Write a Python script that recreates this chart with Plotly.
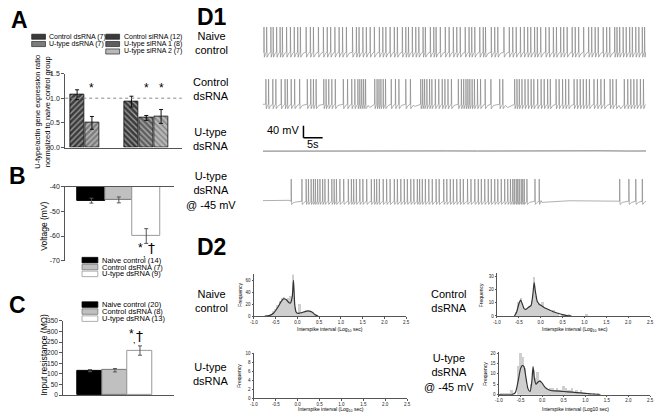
import plotly.graph_objects as go

W, H = 661, 417
FONT = "Arial, Liberation Sans, sans-serif"

# ======================= DATA =======================
# Panel A : U-type/actin expression ratio
a_groups = ["Control dsRNA (7)", "U-type dsRNA (7)", "Control siRNA (12)",
            "U-type siRNA 1 (8)", "U-type siRNA 2 (7)"]
a_ratio = [1.07, 0.50, 0.93, 0.60, 0.63]
a_err = [0.10, 0.13, 0.11, 0.05, 0.14]
a_sig = [False, True, False, True, True]
a_ref_level = 1.0
a_ticks = [0.0, 0.5, 1.0, 1.5]

# Panel B : resting voltage
b_groups = ["Naive control (14)", "Control dsRNA (7)", "U-type dsRNA (9)"]
b_voltage = [-45.6, -45.3, -60.0]
b_err = [1.0, 1.2, 3.0]
b_ticks = [-40, -50, -60, -70]

# Panel C : input resistance
c_groups = ["Naive control (20)", "Control dsRNA (8)", "U-type dsRNA (13)"]
c_res = [115, 117, 210]
c_err = [5, 8, 22]
c_ticks = [0, 50, 100, 150, 200, 250, 300, 350]

# Panel D1 : spike times (s)
naive_spikes = [0.3, 1.0, 2.1, 2.7, 3.6, 4.5, 5.1, 6.2, 7.2, 8.2, 9.1, 9.8, 11.3, 12.4, 13.2,
                14.5, 15.8, 16.8, 17.7, 18.8, 19.9, 20.8, 21.8, 23.4, 24.4, 25.1, 26.1, 27.0,
                28.0, 29.1, 30.4, 31.3, 32.1, 33.2, 34.3, 35.1, 36.4, 37.3, 38.0, 39.0, 39.9,
                40.7, 41.8, 42.4, 43.7, 44.6, 45.2, 46.3, 47.6, 48.6, 49.7, 50.6, 51.5, 52.8,
                53.8, 54.5, 55.3, 56.6, 57.5, 58.1, 59.6, 60.5, 61.3, 62.9, 64.3, 65.2, 66.1,
                67.2, 68.2, 69.1, 69.9, 70.9, 71.6, 72.5, 73.8, 74.7, 75.8, 76.6, 77.7, 78.5,
                79.4, 80.7, 81.5, 82.4, 83.7, 85.0, 85.8, 86.7, 87.5, 88.8, 89.7, 90.5, 91.8,
                92.4, 93.1, 94.0, 94.8, 95.7, 96.4, 97.3, 98.1, 99.0, 99.6]
control_spikes = [0.8, 1.5, 2.6, 3.4, 4.8, 5.8, 6.4, 7.4, 8.3, 9.6, 11.6, 12.5, 13.2, 13.9,
                  15.9, 16.5, 17.2, 18.0, 18.9, 21.0, 22.1, 23.2, 24.0, 24.8, 25.3, 25.8, 26.3,
                  26.8, 29.2, 29.8, 30.3, 30.8, 31.4, 32.0, 33.5, 34.6, 35.5, 37.3, 38.5, 41.2,
                  41.7, 42.2, 42.8, 43.5, 44.1, 45.0, 45.9, 46.8, 47.5, 48.3, 49.2, 51.0, 51.8,
                  52.4, 53.0, 53.5, 54.0, 54.6, 55.2, 56.0, 56.8, 58.0, 59.5, 61.8, 62.6, 65.7,
                  66.3, 66.9, 67.6, 68.4, 69.2, 70.0, 70.7, 71.7, 72.6, 73.4, 74.3, 75.0, 76.5,
                  77.3, 78.2, 79.0, 79.8, 81.2, 82.0, 82.8, 83.6, 84.4, 85.2, 86.4, 87.3, 88.2,
                  89.1, 90.6, 91.3, 92.2, 94.3, 95.2, 96.0, 96.8, 97.6, 98.5, 99.3]
control_dip_times = [27.9, 39.8, 63.9, 93.4]
control_dip_mv = [-66, -62, -66, -70]
utype_times = [0, 8, 16, 24, 32, 40, 48, 56, 64, 72, 80, 88, 96, 100]
utype_mv = [-60.5, -60.0, -59.6, -60.3, -59.8, -60.4, -59.9, -60.2, -59.7, -60.3, -60.0, -59.6, -60.2, -60.0]
held_spikes = [7.4, 10.2, 11.3, 11.9, 12.6, 13.2, 13.7, 14.3, 14.9, 15.6, 16.2, 17.1, 18.0, 18.6,
               19.2, 20.1, 21.1, 22.3, 23.1, 23.7, 24.4, 25.3, 26.1, 27.1, 28.3, 29.1, 29.7, 30.4,
               31.4, 32.3, 33.2, 34.3, 35.1, 36.0, 36.9, 37.7, 38.6, 39.4, 40.3, 40.9, 41.6, 42.4,
               43.3, 44.2, 45.2, 46.0, 47.2, 48.0, 48.9, 49.7, 50.6, 51.5, 52.3, 53.4, 54.3, 55.3,
               56.2, 57.0, 57.9, 58.8, 59.6, 60.5, 61.3, 62.2, 63.1, 63.9, 64.6, 65.2, 65.6, 66.1,
               66.5, 66.9, 67.4, 67.8, 68.2, 68.9, 71.0, 72.1, 93.1, 95.5, 97.3, 99.0]
scale_mv = 40
scale_s = 5

# Panel D2 : interspike interval histograms (log10 s)
naive_bins = [-0.6, -0.55, -0.5, -0.45, -0.4, -0.35, -0.3, -0.25, -0.2, -0.15, -0.1, -0.05,
              0.0, 0.05, 0.1, 0.15, 0.2, 0.25, 0.3, 0.35, 0.4]
naive_counts = [3, 8, 12, 18, 25, 30, 32, 28, 30, 33, 70, 15, 5, 20, 6, 8, 9, 10, 8, 5, 3]
naive_fit_x = [-0.75, -0.65, -0.55, -0.45, -0.38, -0.32, -0.26, -0.2, -0.16, -0.12, -0.09,
               -0.06, -0.03, 0.0, 0.05, 0.1, 0.15, 0.2, 0.25, 0.3, 0.35, 0.4, 0.48]
naive_fit_y = [0, 1, 5, 15, 24, 29, 28, 23, 22, 32, 60, 18, 7, 5, 5, 6, 7, 8, 9, 8, 6, 3, 0]

control_bins = [-0.55, -0.5, -0.45, -0.4, -0.35, -0.3, -0.25, -0.2, -0.15, -0.1, -0.05, 0.0,
                0.05, 0.1, 0.15, 0.2, 0.25, 0.3, 0.35, 0.4, 0.5, 0.65, 1.05]
control_counts = [3, 10, 13, 7, 4, 6, 7, 12, 29, 15, 9, 8, 10, 6, 5, 4, 3, 4, 2, 1, 1, 1, 1]
control_fit_x = [-0.6, -0.55, -0.5, -0.46, -0.42, -0.38, -0.34, -0.28, -0.22, -0.18, -0.15,
                 -0.12, -0.08, -0.04, 0.0, 0.05, 0.1, 0.2, 0.3, 0.4, 0.5, 0.6, 0.7]
control_fit_y = [0, 3, 9, 12, 9, 5.5, 5, 6.5, 8, 16, 25, 18, 11, 9, 8, 7, 6, 4.5, 3, 2, 1, 0.3, 0]

held_bins = [-0.95, -0.9, -0.85, -0.8, -0.75, -0.7, -0.55, -0.5, -0.45, -0.4, -0.35, -0.3,
             -0.25, -0.2, -0.15, -0.1, -0.05, 0.0, 0.05, 0.1, 0.15, 0.2, 0.25, 0.3, 0.35, 0.4,
             0.45, 0.5, 0.55, 0.6, 0.65, 0.7, 0.75, 0.8, 0.85, 0.9, 0.95, 1.0, 1.1, 1.2, 1.3]
held_counts = [1, 1, 1, 1, 1, 2, 14, 20, 18, 13, 4, 2, 5, 12, 8, 11, 7, 5, 4, 3, 2, 3, 3, 2,
               3, 2, 2, 4, 3, 2, 2, 3, 1, 2, 1, 2, 1, 1, 1, 1, 1]
held_fit_x = [-1.0, -0.7, -0.62, -0.56, -0.5, -0.46, -0.42, -0.38, -0.33, -0.28, -0.24, -0.21,
              -0.18, -0.14, -0.1, -0.05, 0.0, 0.05, 0.1, 0.2, 0.3, 0.5, 0.7, 0.9, 1.1, 1.35]
held_fit_y = [0, 0, 1, 6, 12.5, 14, 13.5, 9, 3, 1.5, 6, 13.5, 8, 5, 6, 6.5, 5.5, 4, 3, 2, 1.8,
              1.5, 1.2, 0.8, 0.4, 0]

isi_ticks = [-1.0, -0.5, 0.0, 0.5, 1.0, 1.5, 2.0, 2.5]

# ======================= LAYOUT HELPERS =======================
def fx(px):
    return px / W


def fy(py):
    return 1 - py / H


AX = "#555555"
fig = go.Figure()
annotations = []
shapes = []


def ann(text, x, y, size=11, xanchor="center", yanchor="middle", angle=0, bold=False,
        ref=("paper", "paper"), color="#000", family=FONT):
    annotations.append(dict(text=("<b>%s</b>" % text) if bold else text, x=x, y=y,
                            xref=ref[0], yref=ref[1], showarrow=False, xanchor=xanchor,
                            yanchor=yanchor, textangle=angle,
                            font=dict(family=family, size=size, color=color)))


# ---------------- Panel A ----------------
a_pos = [0, 1, 3.67, 4.67, 5.67]
a_bg = ["#3a3a3a", "#7c7c7c", "#3a3a3a", "#5e5e5e", "#b8b8b8"]
a_fg = ["#101010", "#3a3a3a", "#101010", "#202020", "#666666"]
a_shape = ["/", "/", "\\", "\\", "\\"]
fig.add_trace(go.Bar(x=a_pos, y=a_ratio, width=0.93, xaxis="x", yaxis="y",
                     marker=dict(color=a_bg, line=dict(color="#111", width=0.8),
                                 pattern=dict(shape=a_shape, fgcolor=a_fg, size=4, solidity=0.35)),
                     error_y=dict(type="data", array=a_err, color="#111", thickness=1, width=2),
                     showlegend=False))
shapes.append(dict(type="line", xref="x domain", yref="y", x0=0, x1=1, y0=a_ref_level, y1=a_ref_level,
                   line=dict(color="#888", width=1, dash="dot")))
for p, s in zip(a_pos, a_sig):
    if s:
        ann("*", p, 1.21, size=12, ref=("x", "y"))

# Panel A legend (drawn manually for compact spacing)
a_leg = [(28, 33.3, 0), (28, 40.7, 1), (103, 33.3, 2), (103, 40.7, 3), (103, 48.3, 4)]
for lx, ly, i in a_leg:
    shapes.append(dict(type="rect", xref="paper", yref="paper", x0=fx(lx), x1=fx(lx + 14),
                       y0=fy(ly + 2.6), y1=fy(ly - 2.6), fillcolor=a_bg[i],
                       line=dict(color="#111", width=0.6)))
    ann(a_groups[i], fx(lx + 16), fy(ly), size=7, xanchor="left")

ann("U-type/actin gene expression ratio<br>normalized to naive control group",
    fx(39), fy(110), size=7.5, angle=-90)

# ---------------- Panel B ----------------
b_pos = [0, 1, 2]
b_fill = ["#000000", "#c0c0c0", "#ffffff"]
b_line = ["#000000", "#777777", "#999999"]
fig.add_trace(go.Bar(x=b_pos, y=b_voltage, width=1.0, xaxis="x2", yaxis="y2",
                     marker=dict(color=b_fill, line=dict(color=b_line, width=1)),
                     error_y=dict(type="data", array=b_err, color="#555", thickness=1, width=2),
                     showlegend=False))
ann("*", 1.8, -65.0, size=12, ref=("x2", "y2"))
ann(",", 1.95, -67.5, size=9, ref=("x2", "y2"))
ann("†", 2.2, -65.0, size=14, ref=("x2", "y2"), family="DejaVu Sans")
ann("Voltage (mV)", fx(41), fy(226), size=8.5, angle=-90)
for k, ly in enumerate([260.5, 267.5, 274.5]):
    shapes.append(dict(type="rect", xref="paper", yref="paper", x0=fx(79), x1=fx(95),
                       y0=fy(ly + 2.8), y1=fy(ly - 2.8), fillcolor=b_fill[k],
                       line=dict(color=b_line[k], width=0.8)))
    ann(b_groups[k], fx(97), fy(ly), size=7.5, xanchor="left")

# ---------------- Panel C ----------------
c_pos = [0, 1, 2]
fig.add_trace(go.Bar(x=c_pos, y=c_res, width=1.0, xaxis="x3", yaxis="y3",
                     marker=dict(color=b_fill, line=dict(color=b_line, width=1)),
                     error_y=dict(type="data", array=c_err, color="#555", thickness=1, width=2),
                     showlegend=False))
ann("*", 1.65, 288, size=12, ref=("x3", "y3"))
ann(",", 1.8, 262, size=9, ref=("x3", "y3"))
ann("†", 2.0, 280, size=14, ref=("x3", "y3"), family="DejaVu Sans")
ann("Input resistance (MΩ)", fx(40), fy(357), size=8.5, angle=-90)
for k, ly in enumerate([305.7, 312.8, 320.0]):
    shapes.append(dict(type="rect", xref="paper", yref="paper", x0=fx(79), x1=fx(95),
                       y0=fy(ly + 2.8), y1=fy(ly - 2.8), fillcolor=b_fill[k],
                       line=dict(color=b_line[k], width=0.8)))
    ann(c_groups[k], fx(97), fy(ly), size=7.5, xanchor="left")


# ---------------- Panel D1 : traces ----------------
def spike_trace(spikes, base, peak, trough, t_end=100.0, start_base=None, extra_t=(), extra_v=()):
    pts = [(0.0, base if start_base is None else start_base)]
    for i, t in enumerate(spikes):
        nxt = spikes[i + 1] if i + 1 < len(spikes) else t_end
        gap = nxt - t
        pts += [(t - 0.05, base), (t, peak), (t + 0.1, trough),
                (t + 0.1 + min(0.6, gap * 0.45), base - 4)]
    pts += list(zip(extra_t, extra_v))
    pts.append((t_end, base))
    pts.sort(key=lambda p: p[0])
    return [p[0] for p in pts], [p[1] for p in pts]


tr_col = "#7a7a7a"
nx, nyv = spike_trace(naive_spikes, -55, 30, -72)
fig.add_trace(go.Scatter(x=nx, y=nyv, mode="lines", line=dict(color=tr_col, width=0.6),
                         xaxis="x4", yaxis="y4", showlegend=False, hoverinfo="skip"))
cx, cyv = spike_trace(control_spikes, -55, 30, -70, extra_t=control_dip_times, extra_v=control_dip_mv)
fig.add_trace(go.Scatter(x=cx, y=cyv, mode="lines", line=dict(color=tr_col, width=0.6),
                         xaxis="x5", yaxis="y5", showlegend=False, hoverinfo="skip"))
fig.add_trace(go.Scatter(x=utype_times, y=utype_mv, mode="lines", line=dict(color="#555", width=0.8),
                         xaxis="x6", yaxis="y6", showlegend=False, hoverinfo="skip"))
hx, hyv = spike_trace(held_spikes, -47, 28, -58, start_base=-45,
                      extra_t=[3.0, 6.8, 72.6, 80.0, 92.9], extra_v=[-44, -44, -45, -45.5, -45])
fig.add_trace(go.Scatter(x=hx, y=hyv, mode="lines", line=dict(color=tr_col, width=0.6),
                         xaxis="x7", yaxis="y7", showlegend=False, hoverinfo="skip"))
# scale bar on the U-type axes
sb_x0, sb_y0 = 10.6, -15
shapes.append(dict(type="line", xref="x6", yref="y6", x0=sb_x0, x1=sb_x0, y0=sb_y0, y1=sb_y0 + scale_mv,
                   line=dict(color="#000", width=1.5)))
shapes.append(dict(type="line", xref="x6", yref="y6", x0=sb_x0, x1=sb_x0 + scale_s, y0=sb_y0, y1=sb_y0,
                   line=dict(color="#000", width=1.5)))
ann("%d mV" % scale_mv, sb_x0 - 0.6, 10, size=11, xanchor="right", ref=("x6", "y6"))
ann("%ds" % scale_s, sb_x0 + 2.5, -38, size=11, ref=("x6", "y6"))

# ---------------- Panel D2 : histograms ----------------
bar_col = "#cfcfcf"
fit_col = "#333333"
for (bx, by, fxs, fys, xa, ya) in [
    (naive_bins, naive_counts, naive_fit_x, naive_fit_y, "x8", "y8"),
    (control_bins, control_counts, control_fit_x, control_fit_y, "x9", "y9"),
    (held_bins, held_counts, held_fit_x, held_fit_y, "x11", "y11"),
]:
    fig.add_trace(go.Bar(x=bx, y=by, width=0.045, marker=dict(color=bar_col, line=dict(width=0)),
                         xaxis=xa, yaxis=ya, showlegend=False))
    fig.add_trace(go.Scatter(x=fxs, y=fys, mode="lines",
                             line=dict(color=fit_col, width=1.2, shape="spline", smoothing=0.6),
                             xaxis=xa, yaxis=ya, showlegend=False))
fig.add_trace(go.Scatter(x=[None], y=[None], xaxis="x10", yaxis="y10", showlegend=False))

# labels
ann("A", fx(5), fy(16.5), size=23, xanchor="left", bold=True)
ann("B", fx(3), fy(174.5), size=23, xanchor="left", bold=True)
ann("C", fx(3), fy(306.5), size=23, xanchor="left", bold=True)
ann("D1", fx(193), fy(13.5), size=23, xanchor="left", bold=True)
ann("D2", fx(193), fy(247.5), size=23, xanchor="left", bold=True)

ann("Naive<br>control", fx(210), fy(40), size=11)
ann("Control<br>dsRNA", fx(210), fy(86.5), size=11)
ann("U-type<br>dsRNA", fx(210), fy(137), size=11)
ann("U-type<br>dsRNA<br>@ -45 mV", fx(210), fy(189.5), size=11)

ann("Naive<br>control", fx(210), fy(302.5), size=11)
ann("U-type<br>dsRNA", fx(210), fy(376), size=11)
ann("Control<br>dsRNA", fx(450), fy(302.5), size=11)
ann("U-type<br>dsRNA<br>@ -45 mV", fx(450), fy(374.5), size=11)

isi_t1 = "Interspike interval (Log<sub>10</sub> sec)"
isi_t2 = "Interspike interval (Log10 sec)"
ann(isi_t1, fx(330), fy(331.5), size=5)
ann(isi_t1, fx(330.5), fy(412), size=5)
ann(isi_t1, fx(577.5), fy(331.5), size=5)
ann(isi_t2, fx(578), fy(411.5), size=5)
ann("Frequency", fx(238.5), fy(296), size=5, angle=-90)
ann("Frequency", fx(238.5), fy(378.5), size=5, angle=-90)
ann("Frequency", fx(483), fy(296), size=5, angle=-90)
ann("Frequency", fx(487), fy(376), size=5, angle=-90)


# ---------------- axes ----------------
def bar_yaxis(dom, rng, ticks, ticktext, anchor, size=7):
    return dict(domain=dom, range=rng, tickvals=ticks, ticktext=ticktext, anchor=anchor,
                showline=True, linecolor=AX, linewidth=1, ticks="outside", ticklen=3,
                tickcolor=AX, tickfont=dict(family=FONT, size=size, color="#222"),
                showgrid=False, zeroline=False, fixedrange=True)


def bar_xaxis(dom, rng, anchor, side="bottom"):
    return dict(domain=dom, range=rng, anchor=anchor, side=side, showline=True, linecolor=AX,
                linewidth=1, showticklabels=False, ticks="", showgrid=False, zeroline=False)


def trace_axes(dom_y):
    xa = dict(domain=[fx(262), fx(650)], range=[0, 100], visible=False)
    ya = dict(domain=dom_y, range=[-85, 48], visible=False)
    return xa, ya


def hist_axes(dx, dy, yr, yt, anchor_x, anchor_y):
    xa = dict(domain=dx, range=[-1.0, 2.5], anchor=anchor_y, tickvals=isi_ticks,
              ticktext=["%.1f" % v for v in isi_ticks], showline=True, linecolor=AX, linewidth=0.8,
              ticks="outside", ticklen=1.5, tickcolor=AX, tickfont=dict(family=FONT, size=4.5, color="#222"),
              showgrid=False, zeroline=False)
    ya = dict(domain=dy, range=yr, anchor=anchor_x, tickvals=yt, showline=True, linecolor=AX,
              linewidth=0.8, ticks="outside", ticklen=1.5, tickcolor=AX,
              tickfont=dict(family=FONT, size=4.5, color="#222"), showgrid=False, zeroline=False)
    return xa, ya


layout = dict(
    width=W, height=H, margin=dict(l=0, r=0, t=0, b=0, pad=0), paper_bgcolor="white",
    plot_bgcolor="rgba(0,0,0,0)", showlegend=False, bargap=0,
    xaxis=bar_xaxis([fx(62), fx(180)], [-0.8, 7.07], "y"),
    yaxis=bar_yaxis([fy(146), fy(70.7)], [0, 1.5], a_ticks, ["%.1f" % v for v in a_ticks], "x"),
    xaxis2=bar_xaxis([fx(62), fx(172)], [-0.955, 3.01], "y2", side="top"),
    yaxis2=bar_yaxis([fy(261), fy(186)], [-70, -40], b_ticks, [str(v) for v in b_ticks], "x2"),
    xaxis3=bar_xaxis([fx(60), fx(172)], [-1.07, 3.36], "y3"),
    yaxis3=bar_yaxis([fy(397.7), fy(322.3)], [0, 350], c_ticks, [str(v) for v in c_ticks], "x3", size=6.5),
)
for n, (top, bot) in zip([4, 5, 6, 7], [(18, 58), (71, 111), (117, 157), (172, 212)]):
    xa, ya = trace_axes([fy(bot), fy(top)])
    xa["anchor"] = "y%d" % n
    ya["anchor"] = "x%d" % n
    layout["xaxis%d" % n] = xa
    layout["yaxis%d" % n] = ya

for n, dx, dy, yr, yt in [
    (8, [fx(253), fx(407)], [fy(317.5), fy(275)], [0, 70], [0, 20, 40, 60]),
    (9, [fx(499), fx(654)], [fy(317.3), fy(274)], [0, 32], [0, 10, 20, 30]),
    (10, [fx(253), fx(408)], [fy(401), fy(355)], [0, 10], [0, 2, 4, 6, 8, 10]),
    (11, [fx(501), fx(654)], [fy(397.3), fy(354)], [0, 20.5], [0, 5, 10, 15, 20]),
]:
    xa, ya = hist_axes(dx, dy, yr, yt, "x%d" % n, "y%d" % n)
    layout["xaxis%d" % n] = xa
    layout["yaxis%d" % n] = ya

layout["annotations"] = annotations
layout["shapes"] = shapes
fig.update_layout(**layout)
fig.write_html("out.html", config={"displayModeBar": False},
               post_script="document.body.style.margin='0px';")
